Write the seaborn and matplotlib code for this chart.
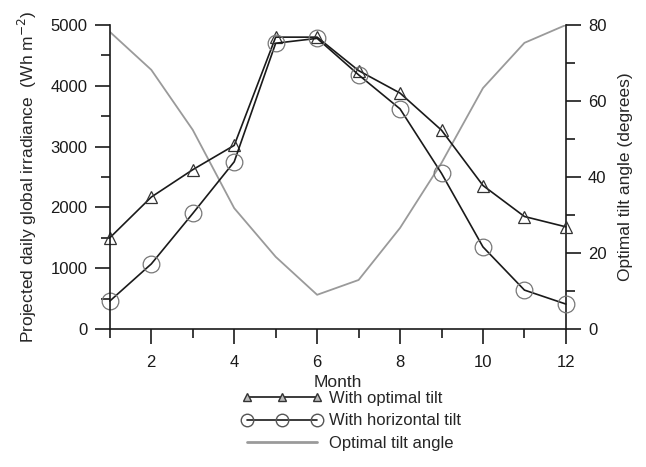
import numpy as np
import pandas as pd
import seaborn as sns
import matplotlib.pyplot as plt
from matplotlib.ticker import MultipleLocator
from matplotlib.lines import Line2D

months = [1, 2, 3, 4, 5, 6, 7, 8, 9, 10, 11, 12]
optimal_tilt = [1500, 2170, 2620, 3020, 4800, 4800, 4250, 3880, 3270, 2360, 1850, 1680]
horizontal_tilt = [460, 1070, 1900, 2750, 4700, 4780, 4180, 3620, 2560, 1350, 640, 410]
tilt_angle = [78.2, 68.2, 52.4, 31.8, 19, 9, 12.9, 26.6, 43.7, 63.4, 75.3, 80]

df = pd.DataFrame({"Month": months, "opt": optimal_tilt,
                   "hor": horizontal_tilt, "angle": tilt_angle})

sns.set_style("ticks")
plt.rcParams['font.family'] = ['Liberation Sans', 'DejaVu Sans']
plt.rcParams['font.size'] = 12

fig = plt.figure(figsize=(6.46, 4.67), dpi=100)
ax = fig.add_axes([0.170, 0.2955, 0.706, 0.651])
ax2 = ax.twinx()
ax.set_zorder(ax2.get_zorder() + 1)
ax.patch.set_visible(False)

sns.lineplot(data=df, x="Month", y="angle", ax=ax2, color="#9a9a9a", lw=1.3)
sns.lineplot(data=df, x="Month", y="opt", ax=ax, color="#1a1a1a", lw=1.2,
             marker="^", markersize=8, markerfacecolor="none",
             markeredgecolor="#333333", markeredgewidth=0.9, clip_on=False)
sns.lineplot(data=df, x="Month", y="hor", ax=ax, color="#1a1a1a", lw=1.2,
             marker="o", markersize=12, markerfacecolor="none",
             markeredgecolor="#777777", markeredgewidth=0.9, clip_on=False)

ax.set_xlim(1, 12)
ax.set_ylim(0, 5000)
ax2.set_ylim(0, 80)
ax.xaxis.set_major_locator(MultipleLocator(2))
ax.xaxis.set_minor_locator(MultipleLocator(1))
ax.yaxis.set_major_locator(MultipleLocator(1000))
ax.yaxis.set_minor_locator(MultipleLocator(500))
ax2.yaxis.set_major_locator(MultipleLocator(20))
ax2.yaxis.set_minor_locator(MultipleLocator(10))

for a in (ax, ax2):
    a.spines["top"].set_visible(False)
    for s in a.spines.values():
        s.set_linewidth(1.2)
        s.set_color("#1a1a1a")
    a.tick_params(which="major", length=11, width=1.2, direction="out",
                  colors="#1a1a1a", labelsize=12, pad=5)
    a.tick_params(which="minor", length=6.5, width=1.2, direction="out", colors="#1a1a1a")
ax.tick_params(axis="x", which="major", pad=8)
ax.spines["right"].set_visible(False)
ax2.spines["left"].set_visible(False)
ax2.spines["bottom"].set_visible(False)

ax.set_xlabel("Month", fontsize=12.5, labelpad=3)
ax.set_ylabel("Projected daily global irradiance  (Wh m$^{-2}$)", fontsize=12.5, labelpad=8)
ax2.set_ylabel("Optimal tilt angle (degrees)", fontsize=12.5, labelpad=8)

handles = [
    Line2D([], [], color="#1a1a1a", lw=1.2, marker="^", markersize=6,
           markerfacecolor="#bbbbbb", markeredgecolor="#333333"),
    Line2D([], [], color="#1a1a1a", lw=1.2, marker="o", markersize=9,
           markerfacecolor="none", markeredgecolor="#555555"),
    Line2D([], [], color="#9a9a9a", lw=2),
]
labels = ["With optimal tilt", "With horizontal tilt", "Optimal tilt angle"]
fig.legend(handles, labels, loc="upper left", bbox_to_anchor=(0.352, 0.195),
           frameon=False, numpoints=3, handlelength=4.8, handletextpad=0.4,
           labelspacing=0.45, fontsize=12)

fig.savefig("out.png", dpi=100)
